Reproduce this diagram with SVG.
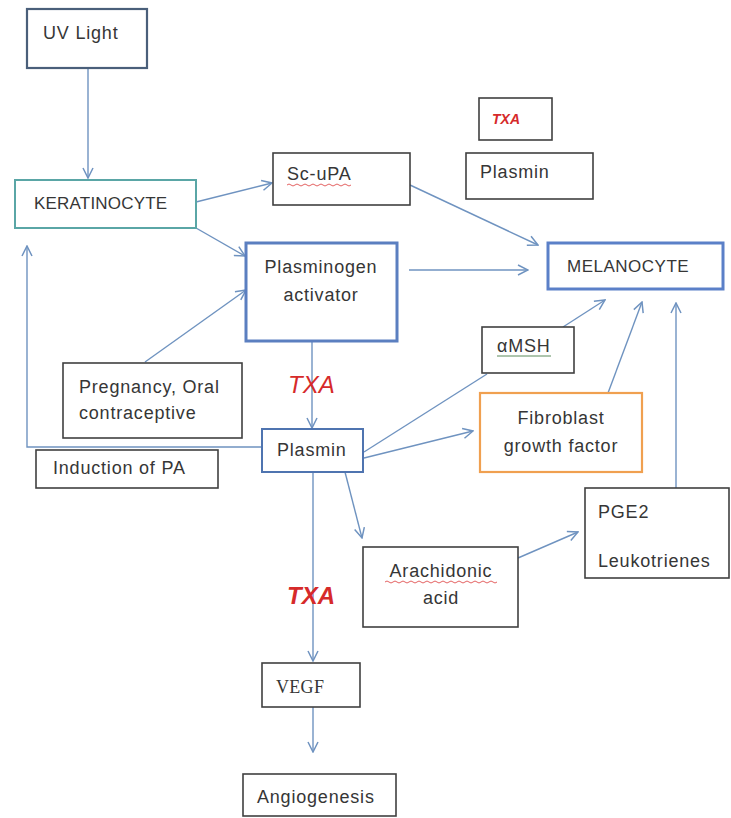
<svg xmlns="http://www.w3.org/2000/svg" width="731" height="818" viewBox="0 0 731 818">
<defs>
<marker id="ah" viewBox="0 0 12 12" refX="11" refY="6" markerWidth="12" markerHeight="12" markerUnits="userSpaceOnUse" orient="auto">
<path d="M1,1 L11,6 L1,11" fill="none" stroke="#6f93c0" stroke-width="1.5"/>
</marker>
<style>
text{font-family:"Liberation Sans",Arial,sans-serif;font-size:18px;letter-spacing:0.8px;fill:#363636}
.up{font-size:17px;letter-spacing:0.2px}
.box{fill:#fff;stroke:#404040;stroke-width:1.6}
.c{stroke:#6f93c0;stroke-width:1.4;fill:none}
.txa{fill:#d62a2a;font-style:italic;letter-spacing:0}
.wavy{fill:none;stroke:#e05050;stroke-width:0.9}
</style>
</defs>
<rect width="731" height="818" fill="#fff"/>
<g id="connectors">
<path class="c" d="M88,68 V178" marker-end="url(#ah)"/>
<path class="c" d="M196,202 L272,183" marker-end="url(#ah)"/>
<path class="c" d="M196,228 L245,256" marker-end="url(#ah)"/>
<path class="c" d="M410,185 L538,245" marker-end="url(#ah)"/>
<path class="c" d="M409,270 H528" marker-end="url(#ah)"/>
<path class="c" d="M145,362 L246,290" marker-end="url(#ah)"/>
<path class="c" d="M312,341 V428" marker-end="url(#ah)"/>
<path class="c" d="M262,447 H27 V246" marker-end="url(#ah)"/>
<path class="c" d="M364,452 L487,374"/>
<path class="c" d="M563,327 L605,300" marker-end="url(#ah)"/>
<path class="c" d="M364,458 L473,431" marker-end="url(#ah)"/>
<path class="c" d="M608,393 L642,302" marker-end="url(#ah)"/>
<path class="c" d="M676,488 V303" marker-end="url(#ah)"/>
<path class="c" d="M345,472 L362,538" marker-end="url(#ah)"/>
<path class="c" d="M518,558 L578,532" marker-end="url(#ah)"/>
<path class="c" d="M313,472 V661" marker-end="url(#ah)"/>
<path class="c" d="M313,707 V752" marker-end="url(#ah)"/>
</g>
<g id="uv-light">
<rect x="27" y="9" width="120" height="59" fill="#fff" stroke="#4a5f7a" stroke-width="2.2"/>
<text x="43" y="39">UV Light</text>
</g>
<g id="keratinocyte">
<rect x="15" y="180" width="181" height="48" fill="#fff" stroke="#5aa6a6" stroke-width="2"/>
<text class="up" x="34" y="209">KERATINOCYTE</text>
</g>
<g id="sc-upa">
<rect class="box" x="273" y="153" width="137" height="52"/>
<text x="287" y="180">Sc-uPA</text>
<path class="wavy" d="M287,185 q2,-2 4,0 t4,0 t4,0 t4,0 t4,0 t4,0 t4,0 t4,0 t4,0 t4,0 t4,0 t4,0 t4,0 t4,0 t4,0 t4,0"/>
</g>
<g id="txa-box">
<rect class="box" x="479" y="98" width="73" height="42"/>
<text class="txa" x="492" y="124" style="font-size:14px;font-weight:bold">TXA</text>
</g>
<g id="plasmin-top">
<rect class="box" x="466" y="153" width="127" height="46"/>
<text x="480" y="178">Plasmin</text>
</g>
<g id="plasminogen-activator">
<rect x="246" y="243" width="151" height="98" fill="#fff" stroke="#5b7fc0" stroke-width="3"/>
<text x="321" y="273" text-anchor="middle">Plasminogen</text>
<text x="321" y="301" text-anchor="middle">activator</text>
</g>
<g id="melanocyte">
<rect x="548" y="243" width="175" height="46" fill="#fff" stroke="#5b80c8" stroke-width="3"/>
<text class="up" x="567" y="272" style="letter-spacing:0.5px">MELANOCYTE</text>
</g>
<g id="pregnancy">
<rect class="box" x="63" y="363" width="179" height="75"/>
<text x="79" y="393">Pregnancy, Oral</text>
<text x="79" y="419">contraceptive</text>
</g>
<g id="txa-label-1">
<text class="txa" x="288" y="393" style="font-size:24px">TXA</text>
</g>
<g id="plasmin">
<rect x="262" y="429" width="101" height="43" fill="#fff" stroke="#4f74b0" stroke-width="2"/>
<text x="277" y="456">Plasmin</text>
</g>
<g id="induction-pa">
<rect class="box" x="36" y="450" width="182" height="38"/>
<text x="53" y="474">Induction of PA</text>
</g>
<g id="amsh">
<rect class="box" x="482" y="327" width="92" height="46"/>
<text x="497" y="352">αMSH</text>
<line x1="497" y1="356" x2="551" y2="356" stroke="#5a8a5a" stroke-width="1"/>
</g>
<g id="fibroblast">
<rect x="480" y="393" width="162" height="79" fill="#fff" stroke="#f0a050" stroke-width="2.2"/>
<text x="561" y="424" text-anchor="middle">Fibroblast</text>
<text x="561" y="452" text-anchor="middle">growth factor</text>
</g>
<g id="pge2">
<rect class="box" x="585" y="488" width="144" height="90"/>
<text x="598" y="518">PGE2</text>
<text x="598" y="567">Leukotrienes</text>
</g>
<g id="arachidonic">
<rect class="box" x="363" y="547" width="155" height="80"/>
<text x="441" y="577" text-anchor="middle">Arachidonic</text>
<path class="wavy" d="M385,582 q2,-2 4,0 t4,0 t4,0 t4,0 t4,0 t4,0 t4,0 t4,0 t4,0 t4,0 t4,0 t4,0 t4,0 t4,0 t4,0 t4,0 t4,0 t4,0 t4,0 t4,0 t4,0 t4,0 t4,0 t4,0 t4,0 t4,0 t4,0 t4,0"/>
<text x="441" y="604" text-anchor="middle">acid</text>
</g>
<g id="txa-label-2">
<text class="txa" x="287" y="604" style="font-size:24px;font-weight:bold">TXA</text>
</g>
<g id="vegf">
<rect class="box" x="262" y="663" width="98" height="44"/>
<text x="276" y="693" style="font-family:'Liberation Serif','Times New Roman',serif;font-size:18px;letter-spacing:0.3px">VEGF</text>
</g>
<g id="angiogenesis">
<rect class="box" x="243" y="774" width="153" height="42"/>
<text x="257" y="803">Angiogenesis</text>
</g>
</svg>
